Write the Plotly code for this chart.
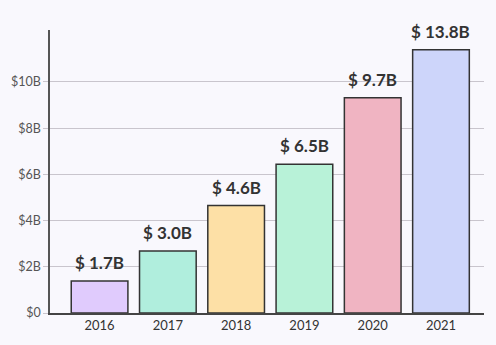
import plotly.graph_objects as go

years = ["2016", "2017", "2018", "2019", "2020", "2021"]
bar_values = [1.39, 2.68, 4.65, 6.44, 9.32, 11.4]
value_labels = ["$ 1.7B", "$ 3.0B", "$ 4.6B", "$ 6.5B", "$ 9.7B", "$ 13.8B"]
bar_colors = ["#e0cbfd", "#b0eedd", "#fde0a6", "#b8f2d8", "#f0b4c2", "#cdd5fa"]
y_ticks = [0, 2, 4, 6, 8, 10]
y_tick_labels = ["$0", "$2B", "$4B", "$6B", "$8B", "$10B"]

fig = go.Figure()
fig.add_trace(go.Bar(
    x=years, y=bar_values,
    marker=dict(color=bar_colors, line=dict(color="#333333", width=1.5)),
    width=0.83, hoverinfo="skip",
))
for i, (v, lab) in enumerate(zip(bar_values, value_labels)):
    fig.add_annotation(x=i, y=v, text="<b>" + lab + "</b>", showarrow=False,
                       xref="x", yref="y", yanchor="bottom", yshift=6,
                       font=dict(family="Lato", size=17, color="#333333"))

fig.update_layout(
    width=496, height=345,
    margin=dict(l=50, r=12, t=30, b=32),
    paper_bgcolor="#f9f8fd", plot_bgcolor="#f9f8fd",
    showlegend=False,
    font=dict(family="Lato", size=12, color="#444444"),
)
fig.update_xaxes(type="category", range=[-0.726, 5.63], showline=True,
                 linecolor="#444444", linewidth=1.5, showgrid=False,
                 ticks="", tickfont=dict(size=13, color="#333333"), fixedrange=True)
fig.update_yaxes(range=[0, 12.25], tickvals=y_ticks, ticktext=y_tick_labels,
                 showline=True, linecolor="#555555", linewidth=1.5,
                 showgrid=True, gridcolor="#c9c5cd", gridwidth=1,
                 ticks="outside", ticklen=5, tickcolor="#c9c5cd",
                 zeroline=False, tickfont=dict(size=12.5, color="#555555"), fixedrange=True)
fig.write_html("out.html", config={"displayModeBar": False})
